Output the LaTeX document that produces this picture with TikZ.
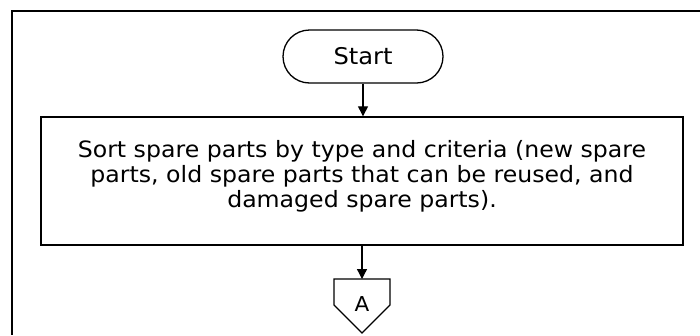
\documentclass[tikz,border=0pt]{standalone}
\usepackage{fontspec}
\setmainfont{DejaVu Sans}[FakeStretch=1.05]
\usetikzlibrary{shapes.misc,arrows.meta}
\tikzset{
  frame/.style={line width=1.5pt},
  terminal/.style={draw, line width=1.3pt, rounded rectangle, minimum width=160pt, minimum height=53pt, inner sep=0pt, font=\fontsize{23}{26}\selectfont},
  procbox/.style={draw, line width=1.4pt, minimum width=642pt, minimum height=128pt, inner sep=0pt, align=center, font=\fontsize{22.5}{25}\selectfont},
  boxtext/.style={align=center, inner sep=0pt, font=\fontsize{22.5}{25}\selectfont},
  flow/.style={line width=1.3pt, -{Triangle[length=10pt,width=10pt]}},
  pagelink/.style={draw, line width=1.3pt},
}
\begin{document}
\begin{tikzpicture}[x=1pt,y=-1pt]
  \useasboundingbox (0,0) rectangle (700,335);
  % page frame, open towards the right and the bottom
  \draw[frame] (700,11) -- (12,11) -- (12,335);
  % start terminal
  \node[terminal] (start) at (363,56.5) {Start};
  % sorting step: frame and its three centred lines
  \node[procbox] (sort) at (362,181) {};
  \node[boxtext, anchor=base] (line1) at (362,157) {Sort spare parts by type and criteria (new spare};
  \node[boxtext, anchor=base] (line2) at (362,182) {parts, old spare parts that can be reused, and};
  \node[boxtext, anchor=base] (line3) at (362,207) {damaged spare parts).};
  % off-page connector A
  \coordinate (ctop) at (362,279);
  \draw[pagelink] (334,279) -- (390,279) -- (390,305) -- (362,333) -- (334,305) -- cycle;
  \node[font=\fontsize{20.5}{22}\selectfont, anchor=base] (alink) at (362,311) {A};
  % flow arrows
  \draw[flow] (start.south) -- (sort.north -| start.south);
  \draw[flow] (sort.south) -- (ctop);
\end{tikzpicture}
\end{document}
